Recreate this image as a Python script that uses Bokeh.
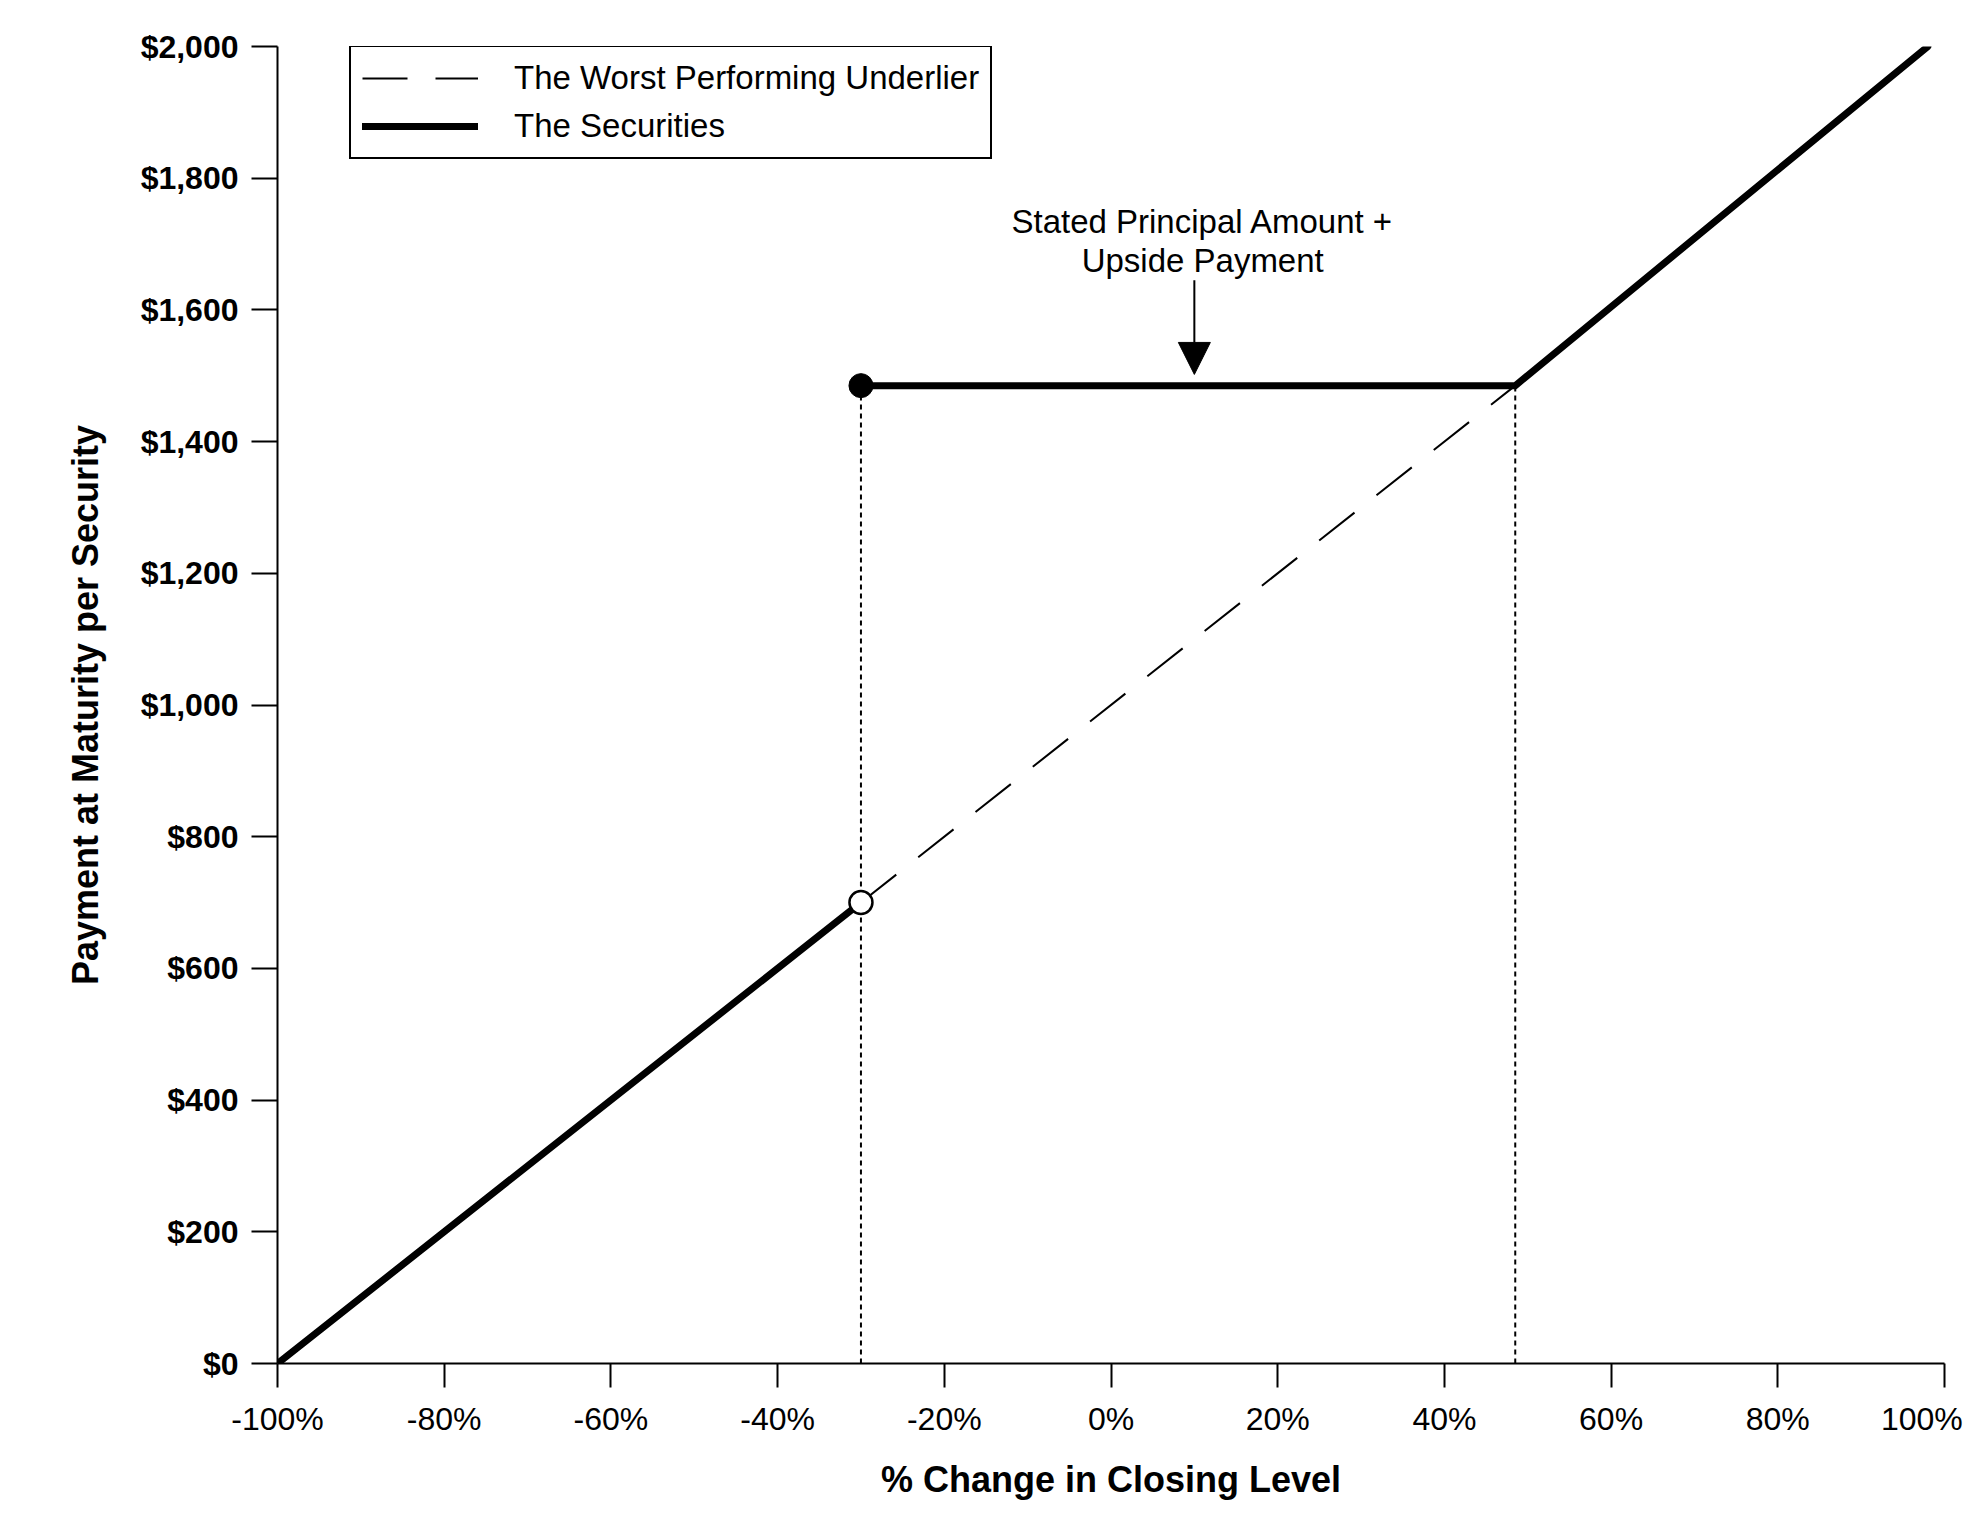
import numpy as np
from bokeh.plotting import figure
from bokeh.models import (Range1d, FixedTicker, Legend, LegendItem, Arrow,
                          NormalHead)
from bokeh.embed import file_html
from bokeh.resources import INLINE
from bokeh.core.properties import value

# ---------------- data ----------------
X_TICKS = [-100, -80, -60, -40, -20, 0, 20, 40, 60, 80, 100]
X_TICK_LABELS = ["-100%", "-80%", "-60%", "-40%", "-20%", "0%",
                 "20%", "40%", "60%", "80%", "100%"]
Y_TICKS = [0, 200, 400, 600, 800, 1000, 1200, 1400, 1600, 1800, 2000]
Y_TICK_LABELS = ["$0", "$200", "$400", "$600", "$800", "$1,000",
                 "$1,200", "$1,400", "$1,600", "$1,800", "$2,000"]

# The Securities (payoff), NaN separates the two pieces
securities_x = np.array([-100, -30, np.nan, -30, 48.5, 98])
securities_y = np.array([0, 700, np.nan, 1485, 1485, 2000])
# The Worst Performing Underlier (shown between barrier and cap)
underlier_x = [-30, 48.5]
underlier_y = [700, 1485]
# reference levels (vertical dotted lines)
ref_x = [-30, 48.5]
ref_top = [1485, 1485]
ref_bottom = [0, 0]
# markers
open_x, open_y = [-30], [700]
closed_x, closed_y = [-30], [1485]
# annotation
annot_lines = ["Stated Principal Amount +", "Upside Payment"]
annot_x = [11, 11]
annot_y = [1735, 1675]
arrow_x, arrow_y0, arrow_y1 = 10, 1645, 1502

FONT = "Liberation Sans"

p = figure(width=1980, height=1510,
           x_range=Range1d(-100, 100), y_range=Range1d(0, 2000),
           output_backend="svg", toolbar_location=None,
           min_border_left=277, min_border_right=36,
           min_border_top=46, min_border_bottom=147)
p.grid.visible = False
p.outline_line_color = None
p.background_fill_color = "white"
p.border_fill_color = "white"

# x axis
xa = p.xaxis[0]
xa.ticker = FixedTicker(ticks=X_TICKS)
overrides = {t: lab for t, lab in zip(X_TICKS, X_TICK_LABELS)}
overrides[100] = X_TICK_LABELS[-1] + "\u00a0\u00a0"
xa.major_label_overrides = overrides
xa.major_label_text_font = FONT
xa.major_label_text_font_size = "32px"
xa.major_label_text_font_style = "normal"
xa.major_label_text_color = "black"
xa.major_label_standoff = 13
xa.major_tick_out = 24
xa.major_tick_in = 0
xa.minor_tick_out = 0
xa.minor_tick_in = 0
xa.axis_line_width = 2
xa.major_tick_line_width = 2
xa.axis_label = "% Change in Closing Level"
xa.axis_label_text_font = FONT
xa.axis_label_text_font_size = "36px"
xa.axis_label_text_font_style = "bold"
xa.axis_label_text_color = "black"
xa.axis_label_standoff = 19

# y axis
ya = p.yaxis[0]
ya.ticker = FixedTicker(ticks=Y_TICKS)
ya.major_label_overrides = {t: lab for t, lab in zip(Y_TICKS, Y_TICK_LABELS)}
ya.major_label_text_font = FONT
ya.major_label_text_font_size = "32px"
ya.major_label_text_font_style = "bold"
ya.major_label_text_color = "black"
ya.major_label_standoff = 13
ya.major_tick_out = 26
ya.major_tick_in = 0
ya.minor_tick_out = 0
ya.minor_tick_in = 0
ya.axis_line_width = 2
ya.major_tick_line_width = 2
ya.axis_label = "Payment at Maturity per Security"
ya.axis_label_text_font = FONT
ya.axis_label_text_font_size = "36px"
ya.axis_label_text_font_style = "bold"
ya.axis_label_text_color = "black"
ya.axis_label_standoff = 32

# dotted reference lines
p.segment(x0=ref_x, y0=ref_bottom, x1=ref_x, y1=ref_top,
          line_color="black", line_width=2, line_dash="5 4")

# underlier (dashed)
r_dash = p.line(underlier_x, underlier_y, line_color="black",
                line_width=2, line_dash="45 28")

# securities (thick)
r_sec = p.line(securities_x, securities_y, line_color="black",
               line_width=7, line_cap="round", line_join="miter")

# markers
p.scatter(closed_x, closed_y, size=24, marker="circle",
          fill_color="black", line_color="black")
p.scatter(open_x, open_y, size=23, marker="circle",
          fill_color="white", line_color="black", line_width=2.5)

# annotation
p.text(x=annot_x, y=annot_y, text=annot_lines,
       text_font=value(FONT), text_font_size="33px",
       text_align="center", text_baseline="middle", text_color="black")
p.add_layout(Arrow(end=NormalHead(size=32, fill_color="black",
                                  line_color="black", line_width=1),
                   x_start=arrow_x, y_start=arrow_y0,
                   x_end=arrow_x, y_end=arrow_y1,
                   line_color="black", line_width=2))

legend = Legend(items=[LegendItem(label="The Worst Performing Underlier", renderers=[r_dash]),
                       LegendItem(label="The Securities", renderers=[r_sec])],
                location=(72, 1204), glyph_width=116, glyph_height=40,
                label_height=40, label_standoff=36, padding=11, spacing=8,
                margin=0,
                label_text_font=FONT, label_text_font_size="33px",
                label_text_color="black",
                border_line_color="black", border_line_width=2,
                border_line_alpha=1.0,
                background_fill_color="white", background_fill_alpha=1.0)
p.add_layout(legend)

open("out.html", "w").write(file_html(p, INLINE))
